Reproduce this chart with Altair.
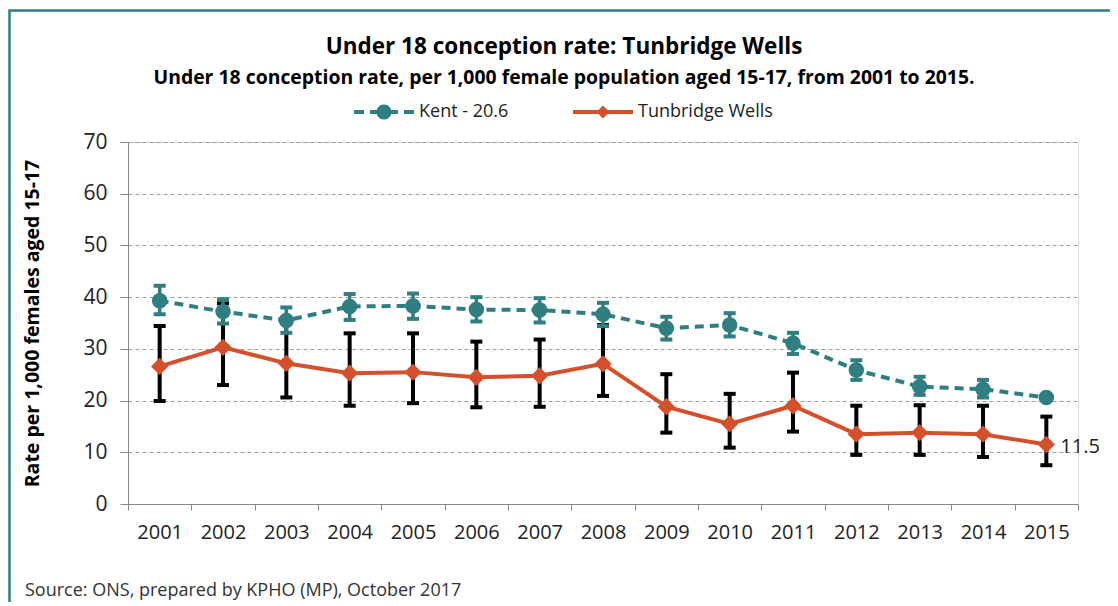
import altair as alt
import pandas as pd

# ---------------- data ----------------
years = [str(y) for y in range(2001, 2016)]
kent = [39.3, 37.2, 35.5, 38.2, 38.3, 37.6, 37.5, 36.7, 34.0, 34.6, 31.1, 25.9, 22.7, 22.2, 20.6]
kent_lo = [36.7, 34.9, 33.1, 35.6, 35.8, 35.3, 35.1, 34.4, 31.8, 32.4, 29.0, 24.0, 21.1, 20.6, None]
kent_hi = [42.2, 39.6, 38.0, 40.6, 40.7, 40.0, 39.8, 38.9, 36.2, 36.9, 33.1, 27.8, 24.6, 24.0, None]
tw = [26.6, 30.3, 27.2, 25.3, 25.5, 24.5, 24.8, 27.1, 18.8, 15.5, 19.0, 13.5, 13.8, 13.5, 11.5]
tw_lo = [19.9, 23.0, 20.6, 19.0, 19.5, 18.7, 18.8, 20.9, 13.8, 10.9, 14.0, 9.5, 9.5, 9.1, 7.5]
tw_hi = [34.4, 38.8, 35.1, 33.0, 33.0, 31.4, 31.8, 34.6, 25.1, 21.3, 25.4, 19.0, 19.1, 19.0, 16.9]
series_names = ["Kent - 20.6", "Tunbridge Wells"]
y_ticks = [0, 10, 20, 30, 40, 50, 60, 70]

title_text = "Under 18 conception rate: Tunbridge Wells"
subtitle_text = "Under 18 conception rate, per 1,000 female population aged 15-17, from 2001 to 2015."
y_title = "Rate per 1,000 females aged 15-17"
source_text = "Source: ONS, prepared by KPHO (MP), October 2017"

TEAL = "#2E7E82"
ORANGE = "#D4502C"
FONT = "Open Sans"

df = pd.DataFrame({
    "year": years, "kent": kent, "kent_lo": kent_lo, "kent_hi": kent_hi,
    "tw": tw, "tw_lo": tw_lo, "tw_hi": tw_hi,
})
legend_df = pd.DataFrame({"series": series_names})
one = pd.DataFrame({"k": [0]})

W, H = 950, 362
PAD_L, PAD_T, PAD_R, PAD_B = 120, 134, 32, 98

# legend symbols: line + marker, drawn as custom paths in [-1, 1]
kent_sym = ("M-1,-0.07H-0.667V0.07H-1Z "
            "M-0.467,-0.07H0.467V0.07H-0.467Z "
            "M0.667,-0.07H1V0.07H0.667Z "
            "M-0.25,0A0.25,0.25 0 1,1 0.25,0A0.25,0.25 0 1,1 -0.25,0Z")
tw_sym = ("M-1,-0.07H1V0.07H-1Z "
          "M0,-0.22L0.22,0L0,0.22L-0.22,0Z")

x_enc = alt.X(
    "year:O",
    scale=alt.Scale(type="band", paddingInner=0, paddingOuter=0),
    axis=alt.Axis(
        title=None, labelAngle=0, tickBand="extent", tickSize=6,
        domainColor="#888888", tickColor="#888888", labelFont=FONT,
        labelFontSize=20, labelColor="#222222", labelPadding=12,
    ),
)
y_scale = alt.Scale(domain=[0, 70], nice=False)


def yq(field, axis=False):
    if axis:
        return alt.Y(
            field, type="quantitative", scale=y_scale,
            axis=alt.Axis(
                values=y_ticks, title=y_title, titleFont=FONT, titleFontSize=19.5,
                titleFontWeight="bold", titleColor="#000000", titleX=-96, titleY=H / 2,
                titleAngle=270, titleAlign="center", titleBaseline="middle",
                labelFont=FONT, labelFontSize=21, labelColor="#222222", labelPadding=13,
                tickSize=8, tickColor="#888888", domainColor="#888888",
                grid=True, gridColor="#9a9a9a", gridDash=[4, 3], gridWidth=1,
            ),
        )
    return alt.Y(field, type="quantitative", scale=y_scale)


border = alt.Chart(one).mark_rect(fillOpacity=0, stroke=TEAL, strokeWidth=2.5).encode(
    x=alt.value(1.5 - PAD_L), x2=alt.value(W + PAD_R + 50),
    y=alt.value(2.5 - PAD_T), y2=alt.value(H + PAD_B + 50),
)

base = alt.Chart(df)

tw_bar = base.mark_rule(color="black", strokeWidth=4, opacity=1).encode(
    x=x_enc, y=yq("tw_lo", axis=True), y2="tw_hi:Q")
tw_cap_lo = base.mark_tick(color="black", thickness=4, size=12, opacity=1).encode(
    x=x_enc, y=yq("tw_lo"))
tw_cap_hi = base.mark_tick(color="black", thickness=4, size=12, opacity=1).encode(
    x=x_enc, y=yq("tw_hi"))

kent_line = base.mark_line(color=TEAL, strokeWidth=4, strokeDash=[9, 6]).encode(
    x=x_enc, y=yq("kent"))
kent_bar = base.mark_rule(color=TEAL, strokeWidth=3.5, opacity=1).encode(
    x=x_enc, y=yq("kent_lo"), y2="kent_hi:Q")
kent_cap_lo = base.mark_tick(color=TEAL, thickness=4, size=12, opacity=1).encode(
    x=x_enc, y=yq("kent_lo"))
kent_cap_hi = base.mark_tick(color=TEAL, thickness=4, size=12, opacity=1).encode(
    x=x_enc, y=yq("kent_hi"))
kent_pts = base.mark_point(shape="circle", filled=True, size=240, color=TEAL, opacity=1).encode(
    x=x_enc, y=yq("kent"))

tw_line = base.mark_line(color=ORANGE, strokeWidth=4).encode(x=x_enc, y=yq("tw"))
tw_pts = base.mark_point(shape="diamond", filled=True, size=300, color=ORANGE, opacity=1).encode(
    x=x_enc, y=yq("tw"))

tw_label = base.transform_filter(alt.datum.year == "2015").mark_text(
    align="left", baseline="middle", dx=14, dy=2, font=FONT, fontSize=20, color="#222222"
).encode(x=x_enc, y=yq("tw"), text=alt.Text("tw:Q", format=".1f"))

leg = dict(
    title=None, orient="none", legendX=226, legendY=-60,
    direction="horizontal", symbolSize=3600, symbolStrokeWidth=0,
    labelFont=FONT, labelFontSize=18, labelColor="#222222",
    labelOffset=5, columnPadding=64, padding=0,
)
legend_layer = alt.Chart(legend_df).transform_filter("false").mark_point(
    filled=True, opacity=1
).encode(
    color=alt.Color("series:N", scale=alt.Scale(domain=series_names, range=[TEAL, ORANGE]),
                    legend=alt.Legend(**leg)),
    shape=alt.Shape("series:N", scale=alt.Scale(domain=series_names, range=[kent_sym, tw_sym]),
                    legend=alt.Legend(**leg)),
)

source = alt.Chart(one).mark_text(
    align="left", baseline="alphabetic", font=FONT, fontSize=18, color="#333333"
).encode(x=alt.value(-103), y=alt.value(H + 92), text=alt.value(source_text))

chart = alt.layer(
    border, tw_bar, tw_cap_lo, tw_cap_hi,
    kent_line, kent_bar, kent_cap_lo, kent_cap_hi, kent_pts,
    tw_line, tw_pts, tw_label, legend_layer, source,
).properties(
    width=W, height=H,
    padding={"left": PAD_L, "top": PAD_T, "right": PAD_R, "bottom": PAD_B},
    autosize=alt.AutoSizeParams(type="none"),
    title=alt.TitleParams(
        text=title_text, subtitle=subtitle_text, anchor="middle", dx=-39,
        font=FONT, fontSize=22.5, fontWeight="bold", color="#000000",
        subtitleFont=FONT, subtitleFontSize=19.4, subtitleFontWeight="bold",
        subtitleColor="#000000", subtitlePadding=10, offset=-78,
    ),
).configure_view(stroke=None).configure(background="white")

chart.save("out.html", embed_options={"renderer": "svg", "actions": False})
